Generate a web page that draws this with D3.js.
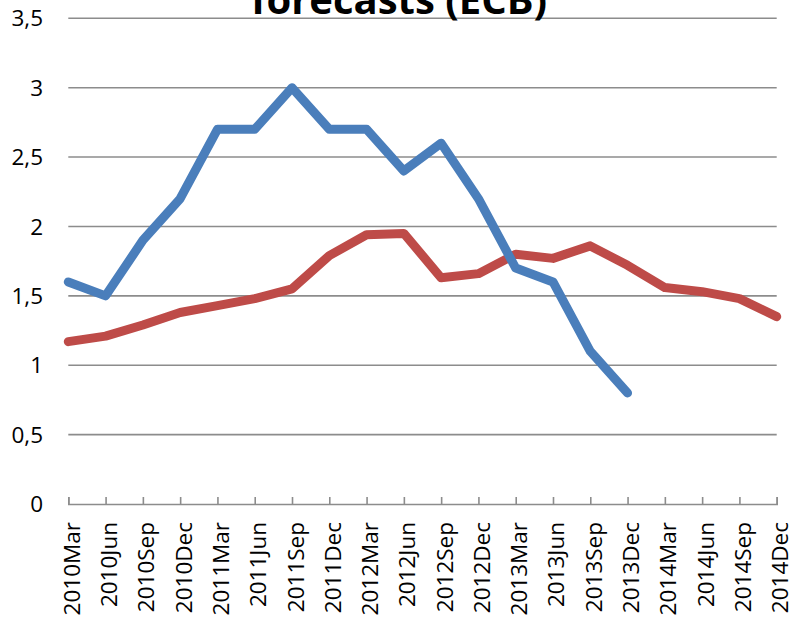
<!DOCTYPE html>
<html>
<head>
<meta charset="utf-8">
<script src="https://cdn.jsdelivr.net/npm/d3@7"></script>
<style>
  body { margin: 0; background: #fff; }
  text { font-family: "Open Sans", "Noto Sans", sans-serif; fill: #000; }
</style>
</head>
<body>
<svg id="chart" width="790" height="623"></svg>
<script>
const categories = [
  '2010Mar', '2010Jun', '2010Sep', '2010Dec',
  '2011Mar', '2011Jun', '2011Sep', '2011Dec',
  '2012Mar', '2012Jun', '2012Sep', '2012Dec',
  '2013Mar', '2013Jun', '2013Sep', '2013Dec',
  '2014Mar', '2014Jun', '2014Sep', '2014Dec'
];
// blue series stops at 2013Dec
const blueValues = [1.6, 1.5, 1.9, 2.2, 2.7, 2.7, 3.0, 2.7, 2.7, 2.4, 2.6, 2.2, 1.7, 1.6, 1.1, 0.8];
const redValues = [1.17, 1.21, 1.29, 1.38, 1.43, 1.48, 1.55, 1.79, 1.94, 1.95, 1.63, 1.66, 1.80, 1.77, 1.86, 1.72, 1.56, 1.53, 1.48, 1.35];
const yTicks = [0, 0.5, 1, 1.5, 2, 2.5, 3, 3.5];
const titleText = 'forecasts (ECB)';

const svg = d3.select('#chart');

let x = d3.scalePoint()
  .domain(categories)
  .range([68.3, 776.7]);

let y = d3.scaleLinear()
  .domain([0, 3.5])
  .range([504, 18.3]);

// gridlines
svg.append('g')
  .attr('class', 'grid')
  .selectAll('line')
  .data(yTicks.filter(d => d > 0))
  .enter()
  .append('line')
  .attr('x1', x.range()[0])
  .attr('x2', x.range()[1])
  .attr('y1', d => y(d))
  .attr('y2', d => y(d))
  .attr('stroke', '#8c8c8c')
  .attr('stroke-width', 1.6);

// y labels
const fmt = d => String(d).replace('.', ',');
svg.append('g')
  .selectAll('text')
  .data(yTicks)
  .enter()
  .append('text')
  .attr('x', 43)
  .attr('y', d => y(d))
  .attr('dy', '0.36em')
  .attr('text-anchor', 'end')
  .style('font-size', '22.5px')
  .text(fmt);

// x axis with inside ticks
let xAxis = d3.axisBottom(x)
  .tickSizeInner(-7)
  .tickSizeOuter(-7);

let gx = svg.append('g')
  .attr('transform', 'translate(0,' + y(0) + ')')
  .call(xAxis);

gx.select('.domain').attr('stroke', '#8c8c8c').attr('stroke-width', 1.6);
gx.selectAll('.tick line').attr('stroke', '#8c8c8c').attr('stroke-width', 1.6);
gx.selectAll('.tick text')
  .attr('transform', 'rotate(-90)')
  .attr('x', -18)
  .attr('y', 11)
  .attr('dy', 0)
  .attr('text-anchor', 'end')
  .attr('fill', '#000')
  .style('font-family', '"Open Sans", "Noto Sans", sans-serif')
  .style('font-size', '22.5px');

// lines
let line = d3.line()
  .x((d, i) => x(categories[i]))
  .y(d => y(d));

svg.append('path')
  .datum(redValues)
  .attr('d', line)
  .attr('fill', 'none')
  .attr('stroke', '#BE4B48')
  .attr('stroke-width', 9)
  .attr('stroke-linejoin', 'round')
  .attr('stroke-linecap', 'round');

svg.append('path')
  .datum(blueValues)
  .attr('d', line)
  .attr('fill', 'none')
  .attr('stroke', '#4A7EBB')
  .attr('stroke-width', 9)
  .attr('stroke-linejoin', 'round')
  .attr('stroke-linecap', 'round');

// title, mostly cut off at the top
svg.append('text')
  .attr('x', 399)
  .attr('y', 13.5)
  .attr('text-anchor', 'middle')
  .style('font-size', '40px')
  .style('font-weight', 'bold')
  .text(titleText);
</script>
</body>
</html>
